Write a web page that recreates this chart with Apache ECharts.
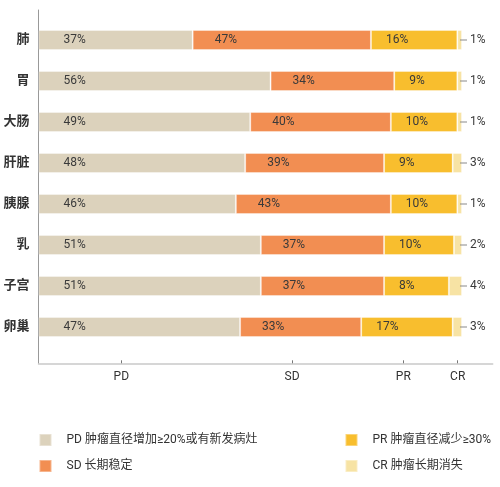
<!DOCTYPE html>
<html>
<head>
<meta charset="utf-8">
<title>疗效分布</title>
<script src="https://cdn.jsdelivr.net/npm/echarts@6.0.0/dist/echarts.min.js"></script>
<style>
    html,body{margin:0;padding:0;background:#fff;}
    #effectChart{width:500px;height:487px;}
</style>
</head>
<body>
<div id="effectChart"></div>
<script>
/*疗效分布图 start*/
//部位
var organs = ['肺','胃','大肠','肝脏','胰腺','乳','子宫','卵巢'];

//图中标注的百分比
var pdPct = [37,56,49,48,46,51,51,47];
var sdPct = [47,34,40,39,43,37,37,33];
var prPct = [16,9,10,9,10,10,8,17];
var crPct = [1,1,1,3,1,2,4,3];

//图中各段实际画出的长度(整条=100)
var pdLen = [36.4,54.8,50.0,48.8,46.6,52.5,52.5,47.6];
var sdLen = [42.1,29.2,33.2,32.8,36.6,29.1,29.1,28.6];
var prLen = [20.4,14.9,15.7,16.2,15.7,16.5,15.3,21.6];
var crLen = [1.1,1.1,1.1,2.2,1.1,1.9,3.1,2.2];

//底部刻度
var tickVals = [19.55,59.86,86.14,98.98];
var tickNames = ['PD','SD','PR','CR'];

var legendNames = ['PD 肿瘤直径增加≥20%或有新发病灶','SD 长期稳定','PR 肿瘤直径减少≥30%','CR 肿瘤长期消失'];
var colors = ['#dcd2bc','#f28e52','#f8be2e','#f7e3a4'];

var xMax = 107.25;
var fontFam = 'Roboto, "Noto Sans CJK SC", sans-serif';

function pctLabel(arr, dist){
    return {
        show: true,
        position: 'insideLeft',
        distance: dist,
        color: '#3a3a3a',
        fontSize: 12,
        fontFamily: fontFam,
        formatter: function(p){ return arr[p.dataIndex] + '%'; }
    };
}

var myChart = echarts.init(document.getElementById('effectChart'));

option = {
    animation: false,
    textStyle: { fontFamily: fontFam },
    grid: [
        //外框坐标轴
        { left: 38.5, top: 10, width: 454.2, height: 353.3 },
        //柱子
        { left: 38.5, top: 19.5, width: 454.2, height: 328 }
    ],
    legend: [{
        left: 38.5, top: 433, orient: 'vertical', padding: 0,
        icon: 'rect', itemWidth: 12, itemHeight: 12, itemGap: 12,
        data: [legendNames[0], legendNames[1]],
        textStyle: { fontSize: 12, color: '#333', padding: [0,0,0,10], fontFamily: fontFam }
    },{
        left: 344.5, top: 433, orient: 'vertical', padding: 0,
        icon: 'rect', itemWidth: 12, itemHeight: 12, itemGap: 12,
        data: [legendNames[2], legendNames[3]],
        textStyle: { fontSize: 12, color: '#333', padding: [0,0,0,10], fontFamily: fontFam }
    }],
    xAxis: [{
        gridIndex: 0, type: 'value', min: 0, max: xMax,
        axisLine: { show: true, lineStyle: { color: '#c9c9c9', width: 1.5 } },
        axisTick: { show: true, inside: true, length: 3, customValues: tickVals, lineStyle: { color: '#777' } },
        axisLabel: {
            customValues: tickVals, margin: 8, fontSize: 12, color: '#333',
            formatter: function(v){
                for(var i=0;i<tickVals.length;i++){
                    if(Math.abs(tickVals[i]-v)<0.01) return tickNames[i];
                }
                return '';
            }
        },
        splitLine: { show: false }
    },{
        gridIndex: 1, type: 'value', min: 0, max: xMax, show: false
    }],
    yAxis: [{
        gridIndex: 0, type: 'value', min: 0, max: 1,
        axisLine: { show: true, lineStyle: { color: '#999', width: 1 } },
        axisTick: { show: false },
        axisLabel: { show: false },
        splitLine: { show: false }
    },{
        gridIndex: 1, type: 'category', inverse: true, data: organs,
        axisLine: { show: false },
        axisTick: { show: false },
        axisLabel: { margin: 9, fontSize: 13, fontWeight: 'bold', color: '#333', fontFamily: fontFam }
    }],
    series: [{
        name: legendNames[0], type: 'bar', stack: 'total', barWidth: 20,
        xAxisIndex: 1, yAxisIndex: 1,
        itemStyle: { color: colors[0], borderColor: 'rgba(255,255,255,0.35)', borderWidth: 1 },
        label: pctLabel(pdPct, 25),
        data: pdLen
    },{
        name: legendNames[1], type: 'bar', stack: 'total', barWidth: 20,
        xAxisIndex: 1, yAxisIndex: 1,
        itemStyle: { color: colors[1], borderColor: 'rgba(255,255,255,0.35)', borderWidth: 1 },
        label: pctLabel(sdPct, 22),
        data: sdLen
    },{
        name: legendNames[2], type: 'bar', stack: 'total', barWidth: 20,
        xAxisIndex: 1, yAxisIndex: 1,
        itemStyle: { color: colors[2], borderColor: 'rgba(255,255,255,0.35)', borderWidth: 1 },
        label: pctLabel(prPct, 15),
        data: prLen
    },{
        name: legendNames[3], type: 'bar', stack: 'total', barWidth: 20,
        xAxisIndex: 1, yAxisIndex: 1,
        itemStyle: { color: colors[3], borderColor: 'rgba(255,255,255,0.35)', borderWidth: 1 },
        label: {
            show: true,
            position: 'right',
            distance: -2,
            formatter: function(p){ return '{ln|}{v|' + crPct[p.dataIndex] + '%}'; },
            rich: {
                ln: { width: 7, height: 1, backgroundColor: '#888' },
                v: { fontSize: 12, color: '#3a3a3a', padding: [0,0,0,3], fontFamily: fontFam }
            }
        },
        data: crLen
    }]
};
myChart.setOption(option,true);
/*疗效分布图 end*/
</script>
</body>
</html>
